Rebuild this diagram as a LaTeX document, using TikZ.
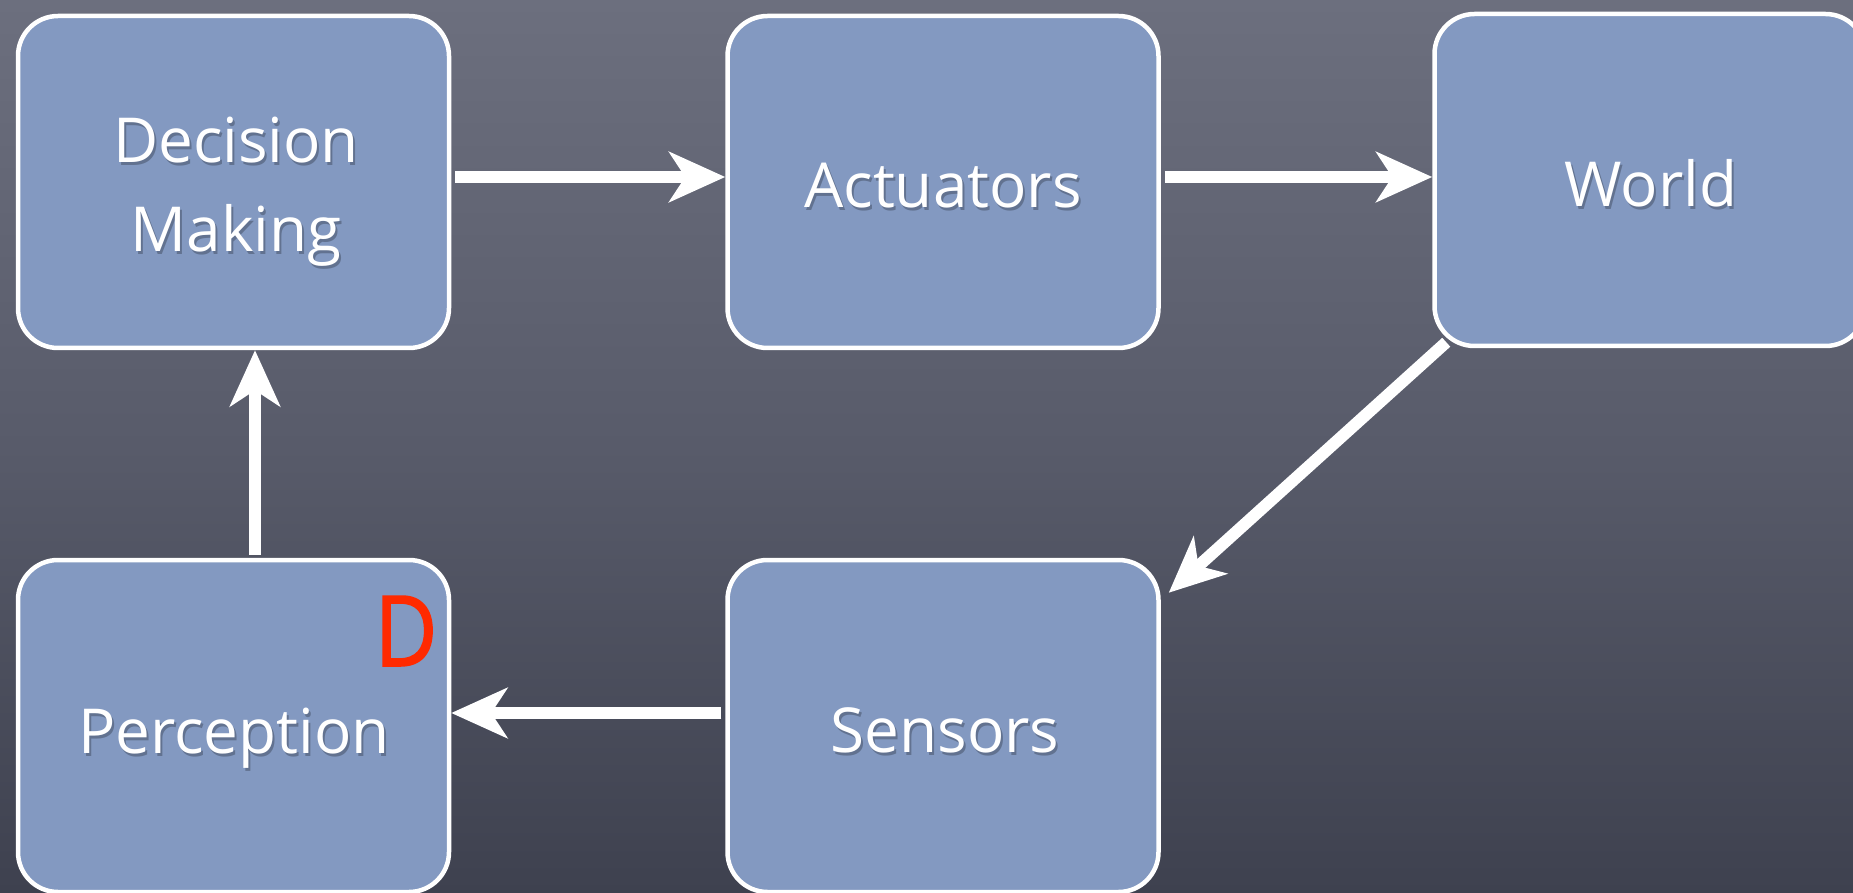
\documentclass[tikz,border=0pt]{standalone}
\usepackage{fontspec}
\setmainfont{Open Sans}
\newfontfamily\markfont[FakeBold=1.6]{Open Sans}
\usetikzlibrary{arrows.meta,positioning}
\definecolor{bgtop}{RGB}{108,111,126}
\definecolor{bgmid}{RGB}{88,91,106}
\definecolor{bgbot}{RGB}{62,65,79}
\definecolor{boxfill}{RGB}{131,153,193}
\definecolor{redD}{RGB}{255,42,0}
\tikzset{
  blockbox/.style={draw=white, line width=4.5pt, fill=boxfill, rounded corners=40pt,
    minimum width=431pt, minimum height=332pt, inner sep=0pt},
  lbl/.style={text=white, font=\fontsize{62}{74}\selectfont, anchor=base, inner sep=0pt},
  lblshadow/.style={text=black, opacity=0.25, font=\fontsize{62}{74}\selectfont, anchor=base, inner sep=0pt},
  flow/.style={draw=white, line width=12pt, shorten <=4pt,
    -{Stealth[length=56pt,width=50pt,inset=16pt]}},
}
\begin{document}
\begin{tikzpicture}[x=1pt,y=-1pt]
\useasboundingbox (0,0) rectangle (1853,893);
\clip (0,0) rectangle (1853,893);
\shade[top color=bgtop, bottom color=bgbot, middle color=bgmid] (0,0) rectangle (1853,893);
% boxes
\node[blockbox] (dec) at (233.5,182) {};
\node[blockbox] (act) at (943,182) {};
\node[blockbox] (wor) at (1650,180) {};
\node[blockbox] (per) at (233.5,726) {};
\node[blockbox] (sen) at (943,726) {};
% label shadows
\node[lblshadow] (decS1) at (238,166) {Decision};
\node[lblshadow] (decS2) at (238,255) {Making};
\node[lblshadow] (actS) at (945,211) {Actuators};
\node[lblshadow] (worS) at (1653,210) {World};
\node[lblshadow] (perS) at (236,756) {Perception};
\node[lblshadow] (senS) at (947,755) {Sensors};
% labels
\node[lbl] (decT1) at (236,163) {Decision};
\node[lbl] (decT2) at (236,252) {Making};
\node[lbl] (actT) at (943,208) {Actuators};
\node[lbl] (worT) at (1651,207) {World};
\node[lbl] (perT) at (234,753) {Perception};
\node[lbl] (senT) at (945,752) {Sensors};
% red D
\node[text=redD, font=\fontsize{98}{110}\markfont, anchor=base, inner sep=0pt, xscale=0.88] (mark) at (406,666) {D};
% connectors
\draw[flow] ([yshift=5pt]dec.east) -- ([yshift=5pt]act.west);
\draw[flow] ([yshift=5pt]act.east) -- ([yshift=3pt]wor.west);
\draw[flow, shorten <=0pt] ([shift={(14,-6)}]wor.south west) -- ([shift={(8,35)}]sen.north east);
\draw[flow] ([yshift=13pt]sen.west) -- ([yshift=13pt]per.east);
\draw[flow] ([xshift=21.5pt,yshift=-1pt]per.north) -- ([xshift=21.5pt]dec.south);
\end{tikzpicture}
\end{document}
